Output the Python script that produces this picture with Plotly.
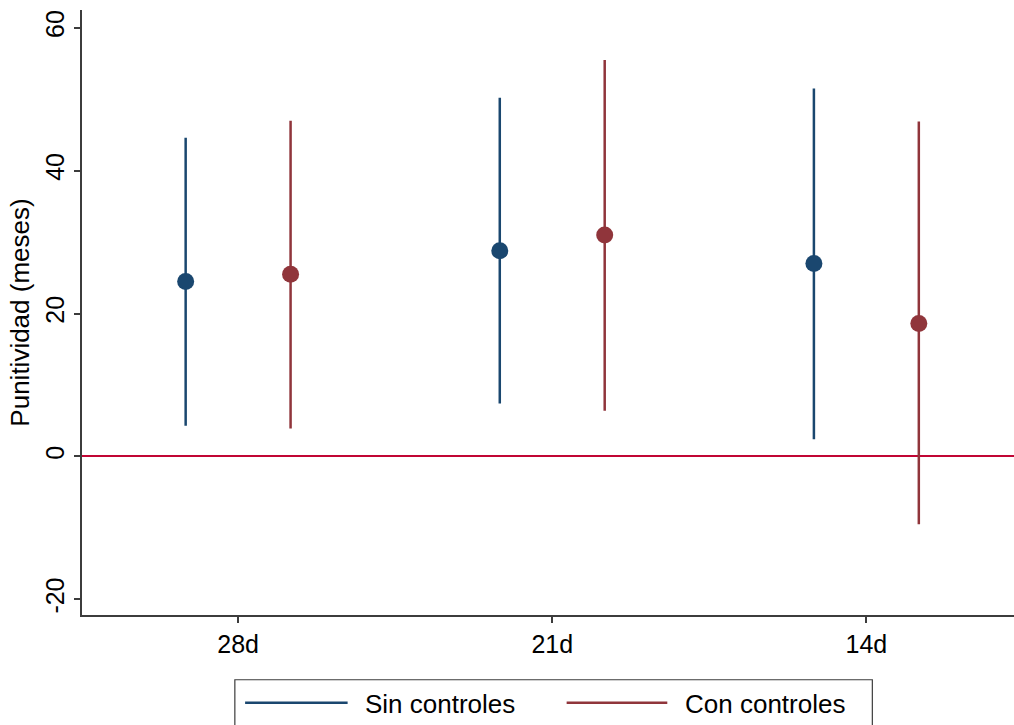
import plotly.graph_objects as go

categories = ["28d", "21d", "14d"]
sin_est = [24.5, 28.8, 27.0]
sin_lo = [4.3, 7.4, 2.4]
sin_hi = [44.6, 50.2, 51.5]
con_est = [25.5, 31.0, 18.6]
con_lo = [3.9, 6.4, -9.5]
con_hi = [47.0, 55.5, 46.9]
y_ticks = [-20, 0, 20, 40, 60]
series_names = ["Sin controles", "Con controles"]

BLUE = "#1a476f"
RED = "#90353b"
ZERO = "#c10534"
AXIS = "#3c3c3c"
FONT = "Liberation Sans, Arial, sans-serif"

pos = [1, 2, 3]
off = 0.167

fig = go.Figure()
for est, lo, hi, color, sign, name in [
    (sin_est, sin_lo, sin_hi, BLUE, -1, series_names[0]),
    (con_est, con_lo, con_hi, RED, 1, series_names[1]),
]:
    fig.add_trace(go.Scatter(
        x=[p + sign * off for p in pos], y=est, mode="markers", name=name,
        marker=dict(size=17, color=color),
        error_y=dict(type="data", symmetric=False,
                     array=[h - e for h, e in zip(hi, est)],
                     arrayminus=[e - l for e, l in zip(est, lo)],
                     color=color, thickness=2.5, width=0),
        showlegend=False,
    ))

# manual Stata-style legend
shapes = [dict(type="rect", xref="paper", yref="paper", x0=0.164, x1=0.848,
               y0=-0.107, y1=-0.20, line=dict(color=AXIS, width=1.2), fillcolor="white")]
annots = []
for (x0, x1, tx, color, name) in [(0.175, 0.285, 0.302, BLUE, series_names[0]),
                                  (0.520, 0.628, 0.645, RED, series_names[1])]:
    shapes.append(dict(type="line", xref="paper", yref="paper", x0=x0, x1=x1,
                       y0=-0.145, y1=-0.145, line=dict(color=color, width=2.5)))
    annots.append(dict(xref="paper", yref="paper", x=tx, y=-0.147, text=name,
                       showarrow=False, xanchor="left", yanchor="middle",
                       font=dict(size=26, color="black", family=FONT)))

fig.update_layout(
    width=1014, height=725,
    margin=dict(l=82, r=0, t=10, b=110),
    plot_bgcolor="white", paper_bgcolor="white",
    font=dict(family=FONT, size=25, color="black"),
    shapes=shapes, annotations=annots,
    xaxis=dict(range=[0.503, 3.47], tickvals=pos, ticktext=categories,
               showline=True, linecolor=AXIS, linewidth=1.5, ticks="outside",
               ticklen=6, tickcolor=AXIS, tickwidth=1.5, showgrid=False,
               zeroline=False, tickfont=dict(size=25)),
    yaxis=dict(range=[-22.2, 62.5], tickvals=y_ticks,
               ticktext=[str(v) for v in y_ticks], tickangle=-90,
               showline=True, linecolor=AXIS, linewidth=1.5, ticks="outside",
               ticklen=6, tickcolor=AXIS, tickwidth=1.5, showgrid=False,
               zeroline=True, zerolinecolor=ZERO, zerolinewidth=2,
               title=dict(text="Punitividad (meses)", font=dict(size=26), standoff=4),
               tickfont=dict(size=25)),
)

fig.write_html("out.html", config={"displayModeBar": False},
               post_script="document.body.style.margin='0';document.body.style.overflow='hidden';")
